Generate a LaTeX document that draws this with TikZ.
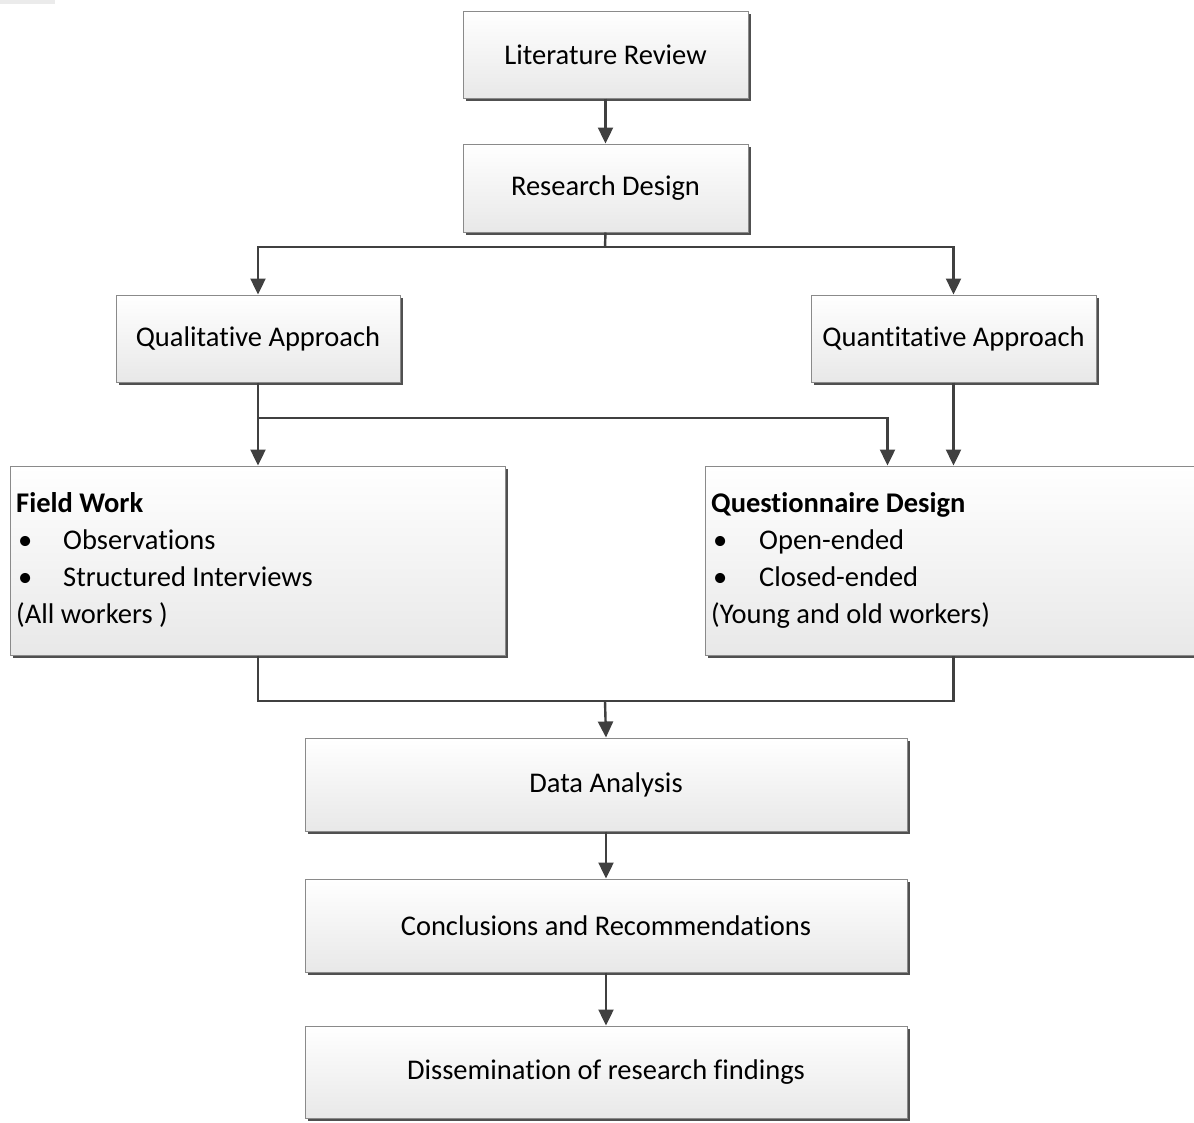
\documentclass[tikz,border=0pt]{standalone}
\usepackage{fontspec}
\setmainfont{Carlito}[Ligatures=NoCommon]
\usetikzlibrary{shadows,arrows.meta}
\definecolor{bordergray}{HTML}{8A8A8A}
\definecolor{linegray}{HTML}{404040}
\definecolor{shadowgray}{HTML}{505050}
\tikzset{
  box/.style={draw=bordergray, line width=1pt, top color=white, bottom color=black!9,
    drop shadow={shadow xshift=3pt, shadow yshift=-3pt, fill=shadowgray, opacity=1},
    font=\fontsize{28.5}{34}\selectfont, inner sep=0pt},
  conn/.style={draw=linegray, line width=2.4pt},
  arr/.style={conn, -{Triangle[width=15pt,length=16pt]}},
}
\begin{document}
\begin{tikzpicture}[x=1pt,y=-1pt]
\useasboundingbox (0,0) rectangle (1194,1122);
\fill[black!8] (0,0) rectangle (55,4);
% boxes
\node[box, minimum width=285pt, minimum height=87pt] (lit) at (605.5,54.5) {Literature Review};
\node[box, minimum width=285pt, minimum height=88pt] (rd) at (605.5,188) {Research Design};
\node[box, minimum width=284pt, minimum height=87pt] (qual) at (258,338.5) {Qualitative Approach};
\node[box, minimum width=285pt, minimum height=87pt] (quant) at (953.5,338.5) {Quantitative Approach};
\node[box, minimum width=495pt, minimum height=189pt] (fw) at (257.5,560.5) {};
\node[box, minimum width=495pt, minimum height=189pt] (qd) at (952.5,560.5) {};
\node[box, minimum width=602pt, minimum height=93pt] (da) at (606,784.5) {Data Analysis};
\node[box, minimum width=602pt, minimum height=93pt] (cr) at (606,925.5) {Conclusions and Recommendations};
\node[box, minimum width=602pt, minimum height=92pt] (dis) at (606,1072) {Dissemination of research findings};
% texts in the two large boxes
\node[anchor=north west, align=left, inner sep=0pt, font=\fontsize{28.5}{37}\selectfont] (fwt) at (16,492)
  {\textbf{Field Work}\\
   \makebox[47pt][l]{\hspace*{2pt}\textbullet}Observations\\
   \makebox[47pt][l]{\hspace*{2pt}\textbullet}Structured Interviews\\
   (All workers )};
\node[anchor=north west, align=left, inner sep=0pt, font=\fontsize{28.5}{37}\selectfont] (qdt) at (711,492)
  {\textbf{Questionnaire Design}\\
   \makebox[48pt][l]{\hspace*{2pt}\textbullet}Open-ended\\
   \makebox[48pt][l]{\hspace*{2pt}\textbullet}Closed-ended\\
   (Young and old workers)};
% connectors
\coordinate (j1) at (605,247);
\coordinate (j2) at (258,418);
\coordinate (j3) at (605,701);
\draw[arr] (lit.south) -- (rd.north);
\draw[conn] (rd.south) -- (j1);
\draw[arr] (j1) -| (qual.north);
\draw[arr] (j1) -| (quant.north);
\draw[arr] (qual.south) -- (fw.north -| qual.south);
\draw[arr] (j2) -| ([xshift=-65pt]qd.north);
\draw[arr] (quant.south) -- (qd.north -| quant.south);
\draw[conn] (fw.south -| qual.south) |- (j3) -| (qd.south -| quant.south);
\draw[arr] (j3) -- (da.north);
\draw[arr] (da.south) -- (cr.north);
\draw[arr] (cr.south) -- (dis.north);
\end{tikzpicture}
\end{document}
